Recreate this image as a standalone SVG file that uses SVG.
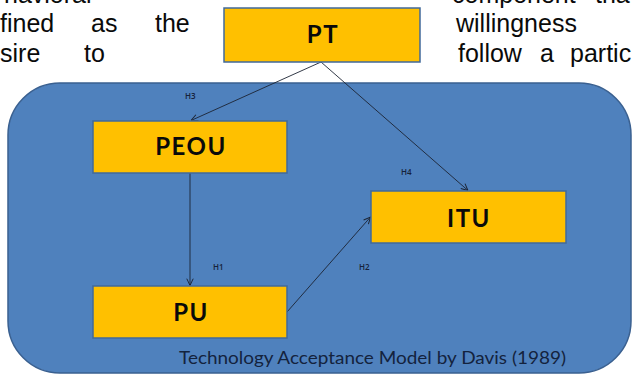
<svg xmlns="http://www.w3.org/2000/svg" width="633" height="375" viewBox="0 0 633 375">
  <defs>
    <style>
      .bg { font-family: "Liberation Sans", Arial, sans-serif; font-size: 25px; fill: #0a0a0a; }
      .box { fill: #FFC000; stroke: #41699B; stroke-width: 1.5; }
      .lbl { font-family: Lato, "Open Sans", sans-serif; font-weight: bold; font-size: 24px; letter-spacing: 1.5px; fill: #0a0a0a; text-anchor: middle; }
      .h { font-family: "Open Sans", "DejaVu Sans", sans-serif; font-weight: 600; font-size: 8px; fill: #16223a; }
      .con { stroke: #1c2433; stroke-width: 0.9; fill: none; marker-end: url(#arr); }
    </style>
    <marker id="arr" viewBox="0 0 10 10" refX="9.5" refY="5" markerWidth="8" markerHeight="8" markerUnits="userSpaceOnUse" orient="auto">
      <path d="M1,1 L9.5,5 L1,9" fill="none" stroke="#1c2433" stroke-width="1.2"/>
    </marker>
  </defs>
  <rect width="633" height="375" fill="#ffffff"/>

  <g id="background-text">
    <text class="bg" x="4" y="3">havioral</text>
    <text class="bg" x="452" y="3">component</text>
    <text class="bg" x="595" y="3">tha</text>
    <text class="bg" x="0" y="32">fined</text>
    <text class="bg" x="91" y="32">as</text>
    <text class="bg" x="155" y="32">the</text>
    <text class="bg" x="456" y="32">willingness</text>
    <text class="bg" x="0" y="62">sire</text>
    <text class="bg" x="84" y="62">to</text>
    <text class="bg" x="458" y="62">follow</text>
    <text class="bg" x="540" y="62">a</text>
    <text class="bg" x="570" y="62">partic</text>
  </g>

  <g id="frame">
    <rect x="8" y="83" width="623" height="290" rx="52" ry="52" fill="#4F81BD" stroke="#3A6090" stroke-width="1.5"/>
    <text x="179" y="364" textLength="387" lengthAdjust="spacingAndGlyphs" font-family="Lato, 'Open Sans', sans-serif" font-size="17.5" fill="#14233d">Technology Acceptance Model by Davis (1989)</text>
  </g>

  <g id="connectors">
    <line class="con" x1="321" y1="62" x2="191" y2="120.5"/>
    <line class="con" x1="321" y1="62" x2="468" y2="190.5"/>
    <line class="con" x1="190" y1="173" x2="190" y2="285.5"/>
    <line class="con" x1="287" y1="312" x2="370.5" y2="217"/>
    <text class="h" x="185" y="99">H3</text>
    <text class="h" x="401" y="175">H4</text>
    <text class="h" x="213" y="270">H1</text>
    <text class="h" x="359" y="270">H2</text>
  </g>

  <g id="PT">
    <rect class="box" x="224" y="8" width="196" height="54"/>
    <text class="lbl" x="323" y="43">PT</text>
  </g>
  <g id="PEOU">
    <rect class="box" x="93" y="121" width="194" height="52"/>
    <text class="lbl" x="191" y="155">PEOU</text>
  </g>
  <g id="ITU">
    <rect class="box" x="371" y="191" width="195" height="52"/>
    <text class="lbl" x="469" y="227">ITU</text>
  </g>
  <g id="PU">
    <rect class="box" x="93" y="286" width="194" height="52"/>
    <text class="lbl" x="191" y="321">PU</text>
  </g>
</svg>
